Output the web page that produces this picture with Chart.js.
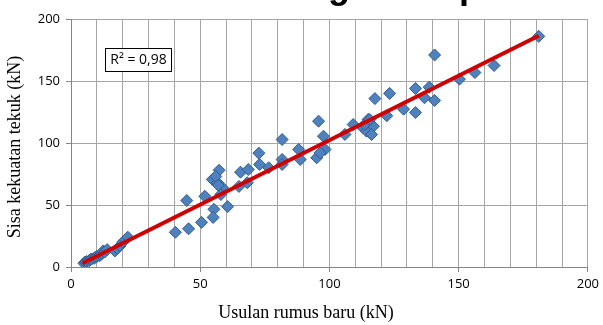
<!DOCTYPE html>
<html>
  <head>
    <script src="https://cdn.jsdelivr.net/npm/chart.js@4"></script>
    <style>
      body { margin: 0; background: #fff; }
    </style>
  </head>

  <body>
    <div style="width: 603px; height: 325px">
      <canvas id="canvas"></canvas>
    </div>
    <script>
      // values
      const xValues = [
        5, 5.5, 6, 7, 7.5, 8, 9, 9.5, 10, 11, 11.5, 12, 12.5, 13, 14,
        17, 18, 19, 20, 21, 22,
        40.4, 45.5, 44.8, 50.5, 51.8, 55.3, 55, 60.6,
        57.3, 54.7, 56.7, 58.6, 58, 56, 57,
        65, 65.6, 68.6, 68.2, 72.7, 73, 76.5,
        81.7, 81.7, 81.7, 88.1, 88.7, 95.8, 97.7, 98.3, 95.1, 96.4,
        106, 109.2, 113, 114.4, 115, 117, 113.7, 116.3, 115.6,
        117.6, 123.3, 122.2, 128.7, 133.3, 133.3, 136.8, 138.6, 140.7, 140.7,
        150.3, 156.3, 163.7, 181
      ];
      const yValues = [
        3, 4, 4.5, 5, 6, 6.5, 7, 8, 8.5, 9, 10, 11, 13, 12, 14,
        13, 15, 17, 20, 22, 24,
        28, 30.8, 53.6, 36, 57, 46.5, 40, 48.7,
        78, 70.6, 68, 64, 58.5, 73, 66,
        65, 76.5, 78.6, 68, 91.8, 82.7, 80,
        102.8, 86.7, 82.7, 94.8, 86.7, 117.6, 105.5, 94.8, 88.1, 92.1,
        106.9, 114.9, 112.3, 109.5, 119, 113.5, 115, 106.9, 118.9,
        135.8, 140, 122, 127.3, 144, 124.5, 136.5, 145, 171, 134.3,
        151.5, 156.8, 162.5, 186
      ];
      const trendX = [4.5, 181];
      const trendY = [3, 186.5];
      const rSquared = 'R\u00B2 = 0,98';

      const points = xValues.map((x, i) => ({ x, y: yValues[i] }));
      const trend = trendX.map((x, i) => ({ x, y: trendY[i] }));

      const gridColor = '#A6A6A6';
      const axisColor = '#868686';
      const tickFont = { family: 'Open Sans', size: 13 };

      const extras = {
        id: 'extras',
        afterDraw(chart) {
          const ctx = chart.ctx;
          ctx.save();
          // chopped-off chart title, only the descenders show
          ctx.fillStyle = '#000';
          ctx.font = 'bold 36px "Liberation Sans"';
          ctx.textAlign = 'center';
          ctx.textBaseline = 'middle';
          ctx.fillText('g', 339, -12);
          ctx.fillText('p', 470, -12);

          // axis titles
          ctx.font = '18px "Liberation Serif"';
          ctx.fillText('Usulan rumus baru (kN)', 306, 313);
          ctx.translate(15, 147);
          ctx.rotate(-Math.PI / 2);
          ctx.fillText('Sisa kekuatan tekuk (kN)', 0, 0);
          ctx.restore();

          // R² label box
          ctx.save();
          ctx.font = '14px "Open Sans"';
          ctx.fillStyle = '#fff';
          ctx.fillRect(105.5, 48.5, 66, 23);
          ctx.strokeStyle = '#000';
          ctx.lineWidth = 1;
          ctx.strokeRect(105.5, 48.5, 66, 23);
          ctx.fillStyle = '#000';
          ctx.textAlign = 'center';
          ctx.textBaseline = 'middle';
          ctx.fillText(rSquared, 138.5, 60.5);
          ctx.restore();
        },
      };

      new Chart(document.getElementById('canvas'), {
        type: 'scatter',
        data: {
          datasets: [
            {
              type: 'line',
              data: trend,
              borderColor: '#D00000',
              borderWidth: 4,
              pointRadius: 0,
              order: 0,
            },
            {
              data: points,
              pointStyle: 'rectRot',
              pointRadius: 6,
              backgroundColor: '#4F81BD',
              borderColor: '#2F5B8E',
              borderWidth: 1,
              order: 1,
            },
          ],
        },
        options: {
          animation: false,
          responsive: true,
          maintainAspectRatio: false,
          layout: { padding: { top: 19, right: 12, left: 0, bottom: 0 } },
          plugins: {
            legend: { display: false },
            tooltip: { enabled: false },
          },
          scales: {
            x: {
              type: 'linear',
              min: 0,
              max: 200,
              afterFit: (s) => { s.height = 58; },
              ticks: {
                stepSize: 10,
                autoSkip: false,
                maxRotation: 0,
                padding: 4,
                color: '#000',
                font: tickFont,
                callback: (v) => (v % 50 === 0 ? v : ''),
              },
              grid: {
                color: gridColor,
                tickLength: 5,
                tickColor: (c) => (c.tick && c.tick.value % 50 === 0 ? axisColor : 'rgba(0,0,0,0)'),
              },
              border: { color: axisColor },
            },
            y: {
              min: 0,
              max: 200,
              afterFit: (s) => { s.width = 71; },
              ticks: {
                stepSize: 50,
                padding: 6,
                color: '#000',
                font: tickFont,
              },
              grid: { color: gridColor, tickLength: 5, tickColor: axisColor },
              border: { color: axisColor },
            },
          },
        },
        plugins: [extras],
      });
    </script>
  </body>
</html>
